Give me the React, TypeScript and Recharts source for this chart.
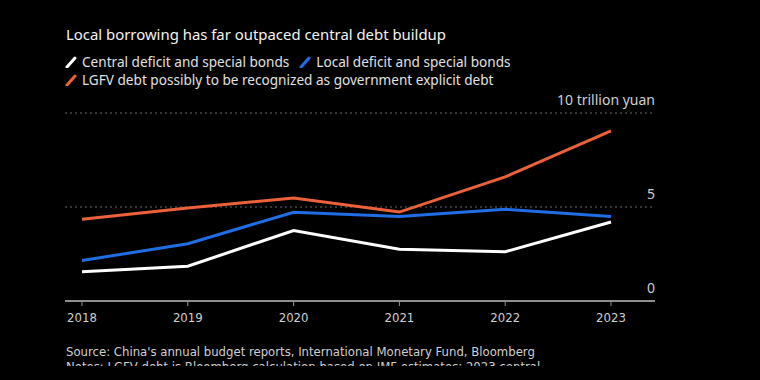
import React from "react";
import { LineChart, Line, XAxis, YAxis, CartesianGrid } from "recharts";

const years = ["2018", "2019", "2020", "2021", "2022", "2023"];
const central = [1.55, 1.85, 3.75, 2.75, 2.62, 4.2];
const local = [2.15, 3.05, 4.72, 4.5, 4.88, 4.5];
const lgfv = [4.35, 4.95, 5.48, 4.73, 6.6, 9.05];
const yTicks = [0, 5, 10];

const seriesNames = [
  "Central deficit and special bonds",
  "Local deficit and special bonds",
  "LGFV debt possibly to be recognized as government explicit debt",
];
const colors = ["#ffffff", "#1f6ee6", "#ec6139"];

const data = years.map((y, i) => ({ year: y, central: central[i], local: local[i], lgfv: lgfv[i] }));

const condensed = "'Liberation Sans Narrow', 'DejaVu Sans Condensed', 'Roboto Condensed', sans-serif";
const mainFont = "'Noto Sans', 'Open Sans', sans-serif";

const YTick = (props: any) => {
  const { y, payload } = props;
  const label = payload.value === 10 ? "10 trillion yuan" : String(payload.value);
  return (
    <text x={655} y={y - 8} textAnchor="end" fill="#cfcfcf" fontSize={14} fontFamily={mainFont}>
      {label}
    </text>
  );
};

const Marker = ({ color }: { color: string }) => (
  <svg width={12} height={12} style={{ marginRight: 5, verticalAlign: "-1px" }}>
    <line x1={2} y1={11} x2={10} y2={2} stroke={color} strokeWidth={3} strokeLinecap="round" />
  </svg>
);

export default function App() {
  return (
    <div style={{ position: "absolute", left: 0, top: 0, width: 760, height: 380, background: "#000", overflow: "hidden" }}>
      <div style={{ position: "absolute", left: 66, top: 24, color: "#f2f2f2", fontFamily: mainFont, fontSize: 14.9, whiteSpace: "nowrap" }}>
        Local borrowing has far outpaced central debt buildup
      </div>
      <div style={{ position: "absolute", left: 65, top: 53, color: "#e0e0e0", fontFamily: mainFont, fontSize: 13.6, lineHeight: "17.5px", whiteSpace: "nowrap" }}>
        <div>
          <Marker color={colors[0]} />
          {seriesNames[0]}
          <span style={{ display: "inline-block", width: 10 }} />
          <Marker color={colors[1]} />
          {seriesNames[1]}
        </div>
        <div>
          <Marker color={colors[2]} />
          {seriesNames[2]}
        </div>
      </div>
      <div style={{ position: "absolute", left: 0, top: 0 }}>
        <LineChart width={760} height={380} data={data} margin={{ top: 113, right: 105, left: 65, bottom: 49 }}>
          <CartesianGrid horizontal vertical={false} stroke="#6a6a6a" strokeDasharray="2 3" />
          <XAxis
            dataKey="year"
            height={30}
            padding={{ left: 17, right: 44 }}
            axisLine={{ stroke: "#8f8f8f", strokeWidth: 2 }}
            tickLine={{ stroke: "#8f8f8f" }}
            tickSize={5}
            tickMargin={7}
            tick={{ fill: "#cfcfcf", fontSize: 13, fontFamily: condensed }}
            interval={0}
          />
          <YAxis
            orientation="right"
            mirror
            domain={[0, 10]}
            ticks={yTicks}
            axisLine={false}
            tickLine={false}
            tick={<YTick />}
          />
          <Line dataKey="lgfv" stroke={colors[2]} strokeWidth={3} dot={false} isAnimationActive={false} />
          <Line dataKey="local" stroke={colors[1]} strokeWidth={3} dot={false} isAnimationActive={false} />
          <Line dataKey="central" stroke={colors[0]} strokeWidth={3} dot={false} isAnimationActive={false} />
        </LineChart>
      </div>
      <div style={{ position: "absolute", left: 66, top: 344, height: 22, overflow: "hidden", color: "#cfcfcf", fontFamily: condensed, fontSize: 13, lineHeight: "15px", whiteSpace: "nowrap" }}>
        <div>Source: China's annual budget reports, International Monetary Fund, Bloomberg</div>
        <div>Notes: LGFV debt is Bloomberg calculation based on IMF estimates; 2023 central</div>
      </div>
    </div>
  );
}
